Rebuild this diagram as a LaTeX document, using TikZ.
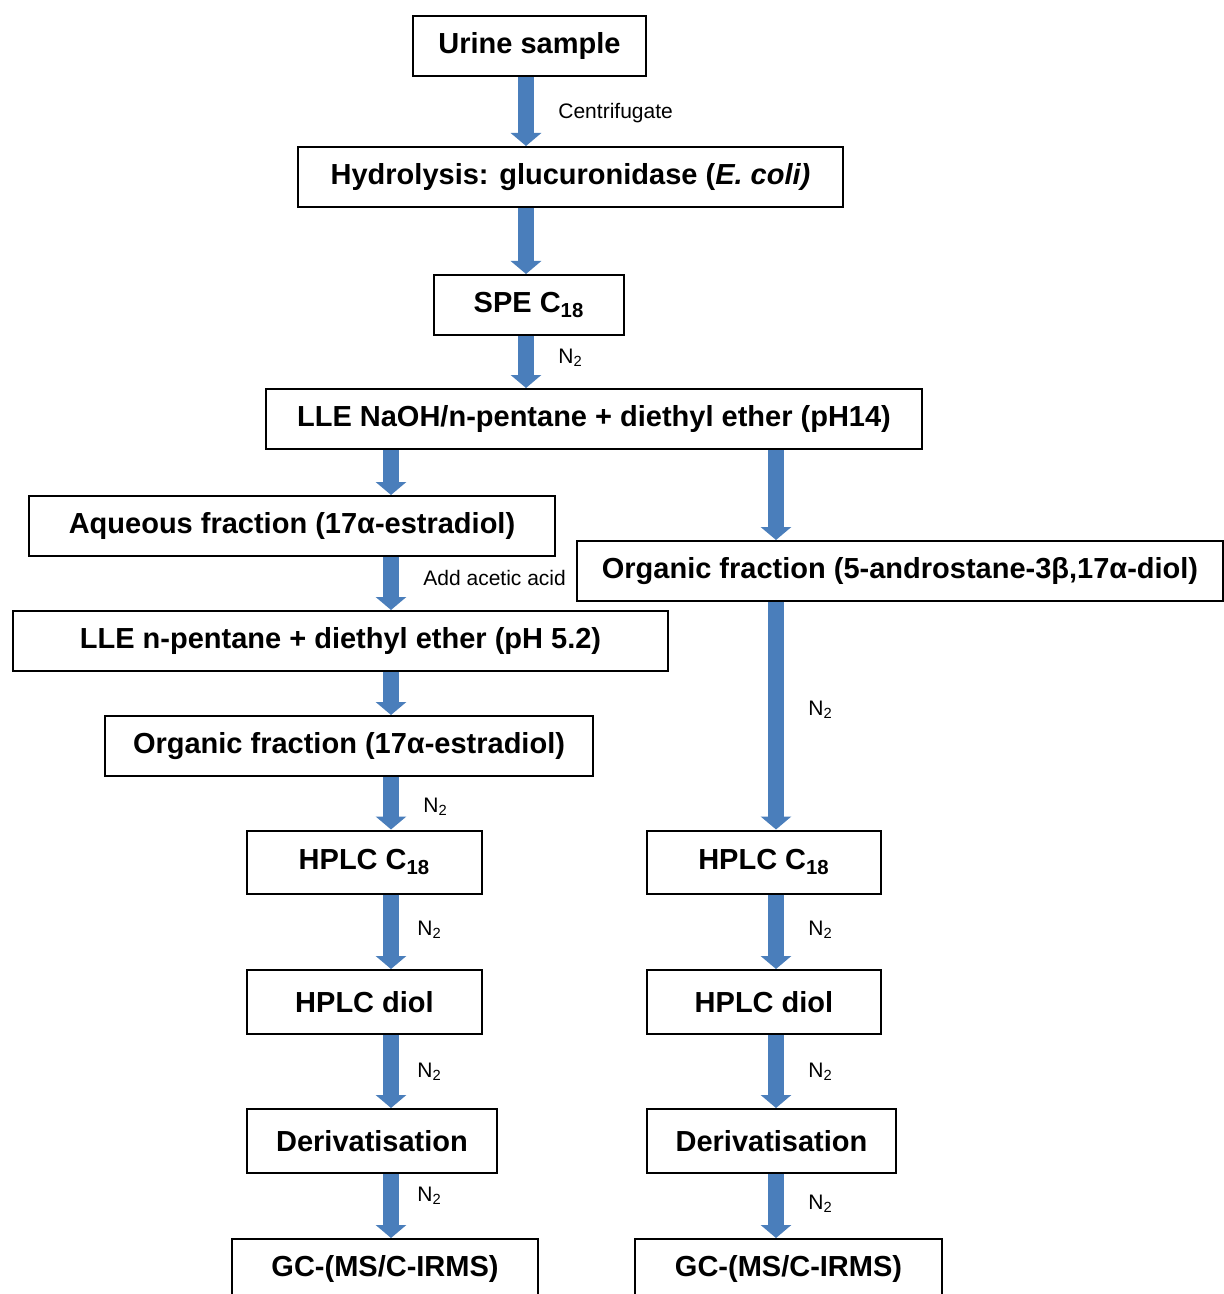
\documentclass[tikz,border=0pt]{standalone}
\usepackage{fontspec}
\setmainfont{Liberation Sans}
\usetikzlibrary{arrows.meta}
\definecolor{flowblue}{HTML}{4A7EBB}

\begin{document}
\begin{tikzpicture}[
  x=0.5pt, y=-0.5pt,
  box/.style={draw, line width=1pt, align=center, minimum height=30pt,
              inner sep=0pt, font=\bfseries\fontsize{14.5}{17}\selectfont},
  flow/.style={draw=flowblue, line width=8pt,
               -{Triangle[width=15pt, length=6.5pt, fill=flowblue]}},
  note/.style={anchor=west, inner sep=0pt, font=\fontsize{10.5}{12}\selectfont}
]
\useasboundingbox (0,0) rectangle (1223,1294);
% columns of the arrows
\coordinate (mid) at (526,0);
\coordinate (lft) at (391,0);
\coordinate (rgt) at (776,0);

\node[box, minimum width=116.5pt] (urine) at (529.5,46) {Urine sample};
\node[box, minimum width=272.5pt] (hydro) at (570.5,177) {Hydrolysis: glucuronidase (\textit{E. coli)}};
\node[box, minimum width=95pt]    (spe)   at (529,305) {SPE C\textsubscript{18}};
\node[box, minimum width=328pt]   (lle)   at (594,419) {LLE NaOH/n-pentane + diethyl ether (pH14)};
\node[box, minimum width=263pt]   (aq)    at (292,526) {Aqueous fraction (17α-estradiol)};
\node[box, minimum width=323pt]   (orgR)  at (900,571) {Organic fraction (5-androstane-3β,17α-diol)};
\node[box, minimum width=327.5pt] (lleB)  at (340.5,641) {LLE n-pentane + diethyl ether (pH 5.2)};
\node[box, minimum width=244pt]   (orgL)  at (349,746) {Organic fraction (17α-estradiol)};
\node[box, minimum width=117.5pt, minimum height=31.5pt] (hplcL) at (364.5,862) {HPLC C\textsubscript{18}};
\node[box, minimum width=117pt, minimum height=31.5pt]   (hplcR) at (764,862) {HPLC C\textsubscript{18}};
\node[box, minimum width=117.5pt, minimum height=32pt]   (diolL) at (364.5,1002) {HPLC diol};
\node[box, minimum width=117pt, minimum height=32pt]     (diolR) at (764,1002) {HPLC diol};
\node[box, minimum width=125pt, minimum height=32pt]     (derL)  at (372,1141) {Derivatisation};
\node[box, minimum width=124.5pt, minimum height=32pt]   (derR)  at (771.5,1141) {Derivatisation};
\node[box, minimum width=153pt]   (gcL)   at (385,1269) {GC-(MS/C-IRMS)};
\node[box, minimum width=153.5pt] (gcR)   at (788.5,1269) {GC-(MS/C-IRMS)};

% trunk
\draw[flow] (urine.south -| mid) -- (hydro.north -| mid);
\draw[flow] (hydro.south -| mid) -- (spe.north -| mid);
\draw[flow] (spe.south -| mid)   -- (lle.north -| mid);
% left branch
\draw[flow] (lle.south -| lft)   -- (aq.north -| lft);
\draw[flow] (aq.south -| lft)    -- (lleB.north -| lft);
\draw[flow] (lleB.south -| lft)  -- (orgL.north -| lft);
\draw[flow] (orgL.south -| lft)  -- (hplcL.north -| lft);
\draw[flow] (hplcL.south -| lft) -- (diolL.north -| lft);
\draw[flow] (diolL.south -| lft) -- (derL.north -| lft);
\draw[flow] (derL.south -| lft)  -- (gcL.north -| lft);
% right branch
\draw[flow] (lle.south -| rgt)   -- (orgR.north -| rgt);
\draw[flow] (orgR.south -| rgt)  -- (hplcR.north -| rgt);
\draw[flow] (hplcR.south -| rgt) -- (diolR.north -| rgt);
\draw[flow] (diolR.south -| rgt) -- (derR.north -| rgt);
\draw[flow] (derR.south -| rgt)  -- (gcR.north -| rgt);

\node[note] (centri) at (558,113) {Centrifugate};
\node[note] (nspe)   at (558,358) {N\textsubscript{2}};
\node[note] (acid)   at (423,578) {Add acetic acid};
\node[note] (norgR)  at (808,710) {N\textsubscript{2}};
\node[note] (norgL)  at (423,807) {N\textsubscript{2}};
\node[note] (nhpL)   at (417,930) {N\textsubscript{2}};
\node[note] (nhpR)   at (808,930) {N\textsubscript{2}};
\node[note] (ndiL)   at (417,1072) {N\textsubscript{2}};
\node[note] (ndiR)   at (808,1072) {N\textsubscript{2}};
\node[note] (nderL)  at (417,1196) {N\textsubscript{2}};
\node[note] (nderR)  at (808,1204) {N\textsubscript{2}};
\end{tikzpicture}
\end{document}
